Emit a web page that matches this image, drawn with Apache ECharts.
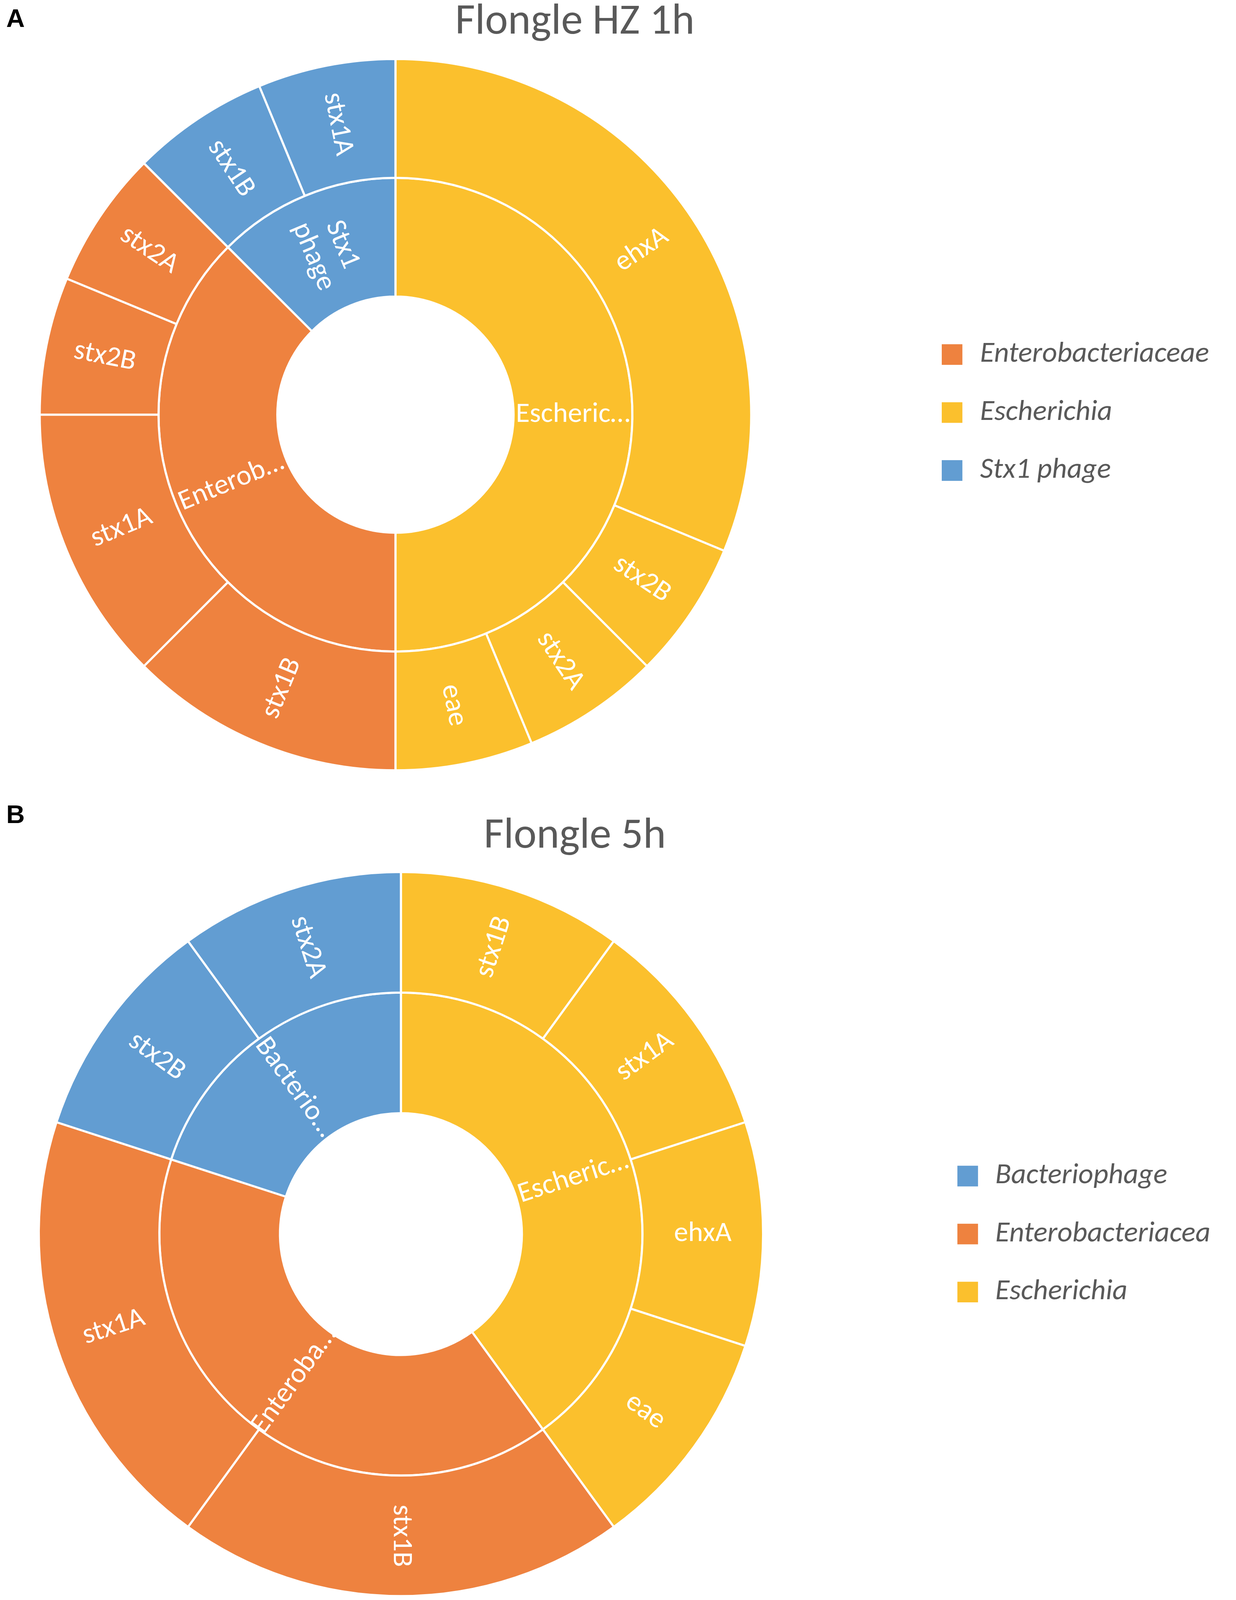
<!DOCTYPE html>
<html lang="en">
<head>
    <meta charset="UTF-8">
    <title>Flongle sunburst</title>
    <script src="https://cdn.jsdelivr.net/npm/echarts@6/dist/echarts.min.js"></script>
</head>
<body style="margin:0;background:#fff;overflow:hidden">
<div id="chart" style="width:100vw;height:100vh"></div>
<script>
    // panel A - Flongle HZ 1h
    var groupsA = ['Escherichia', 'Enterobacteriaceae', 'Stx1 phage'];
    var groupLabelsA = ['Escheric…', 'Enterob…', 'Stx1\nphage'];
    var genesA = [['ehxA', 'stx2B', 'stx2A', 'eae'], ['stx1B', 'stx1A', 'stx2B', 'stx2A'], ['stx1B', 'stx1A']];
    var valuesA = [[5, 1, 1, 1], [2, 2, 1, 1], [1, 1]];
    var legendA = ['Enterobacteriaceae', 'Escherichia', 'Stx1 phage'];

    // panel B - Flongle 5h
    var groupsB = ['Escherichia', 'Enterobacteriacea', 'Bacteriophage'];
    var groupLabelsB = ['Escheric…', 'Enteroba…', 'Bacterio…'];
    var genesB = [['stx1B', 'stx1A', 'ehxA', 'eae'], ['stx1B', 'stx1A'], ['stx2B', 'stx2A']];
    var valuesB = [[1, 1, 1, 1], [2, 2], [1, 1]];
    var legendB = ['Bacteriophage', 'Enterobacteriacea', 'Escherichia'];

    var colorOf = {
        'Escherichia': '#FBC02D',
        'Enterobacteriaceae': '#EE823F',
        'Enterobacteriacea': '#EE823F',
        'Stx1 phage': '#629DD2',
        'Bacteriophage': '#629DD2'
    };

    var FONT = 'Carlito, Calibri, Lato, sans-serif';
    var GREY = '#595959';

    // layout is laid out for a 3163 x 4499 page, then fitted to the real window
    var dom = document.getElementById('chart');
    var sx = dom.clientWidth / 3163;
    var sy = dom.clientHeight / 4499;
    var s = Math.min(sx, sy);
    function X(v) { return v * sx; }
    function Y(v) { return v * sy; }
    function S(v) { return v * s; }

    function buildTree(groups, labels, genes, values) {
        return groups.map(function (g, i) {
            return {
                name: g,
                itemStyle: {color: colorOf[g]},
                label: {formatter: labels[i]},
                children: genes[i].map(function (gene, j) {
                    return {name: gene, value: values[i][j], itemStyle: {color: colorOf[g]}};
                })
            };
        });
    }

    function sunburst(data, center, radius) {
        return {
            type: 'sunburst',
            center: [X(center[0]), Y(center[1])],
            radius: [S(radius[0]), S(radius[1])],
            sort: null,
            nodeClick: false,
            startAngle: 90,
            data: data,
            itemStyle: {borderColor: '#fff', borderWidth: S(6)},
            label: {
                rotate: 'radial',
                color: '#fff',
                fontSize: S(80),
                fontFamily: FONT,
                lineHeight: S(88)
            },
            emphasis: {disabled: true}
        };
    }

    function legendItems(names, x, yMid, textX) {
        var els = [];
        names.forEach(function (n, i) {
            var y = Y(yMid + (i - 1) * 163);
            els.push({
                type: 'rect',
                shape: {x: X(x), y: y - S(29), width: S(58), height: S(58)},
                style: {fill: colorOf[n]}
            });
            els.push({
                type: 'text',
                x: X(textX),
                y: y,
                style: {
                    text: n, fill: GREY, fontSize: S(82), fontStyle: 'italic', fontFamily: FONT,
                    align: 'left', verticalAlign: 'middle',
                    textAlign: 'left', textVerticalAlign: 'middle'
                }
            });
        });
        return els;
    }

    function panelLetter(t, y) {
        return {
            type: 'text', x: X(16), y: Y(y),
            style: {text: t, fill: '#000', fontSize: S(72), fontWeight: 'bold', fontFamily: 'Liberation Sans, Arial'}
        };
    }

    function chartTitle(t, baseline) {
        return {
            text: t, left: X(1466), top: Y(baseline) - S(95), textAlign: 'center',
            textStyle: {color: GREY, fontSize: S(122), fontWeight: 'normal', fontFamily: FONT}
        };
    }

    var myChart = echarts.init(dom);

    var option = {
        animation: false,
        title: [
            chartTitle('Flongle HZ 1h', 93),
            chartTitle('Flongle 5h', 2382)
        ],
        graphic: [panelLetter('A', 20), panelLetter('B', 2258)]
            .concat(legendItems(legendA, 2410, 1160, 2508))
            .concat(legendItems(legendB, 2450, 3470, 2547)),
        series: [
            sunburst(buildTree(groupsA, groupLabelsA, genesA, valuesA), [1012, 1166], [332, 1000]),
            sunburst(buildTree(groupsB, groupLabelsB, genesB, valuesB), [1026, 3470], [340, 1018])
        ]
    };
    myChart.setOption(option);
</script>
</body>
</html>
